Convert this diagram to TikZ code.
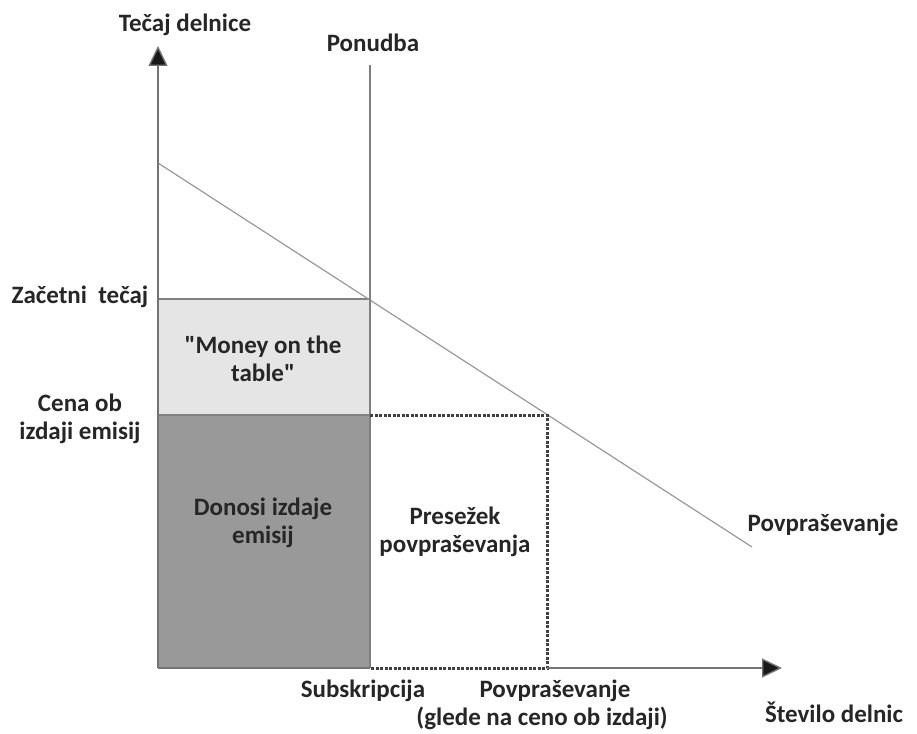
\documentclass[tikz,border=0pt]{standalone}
\usepackage{fontspec}
\setmainfont{Carlito}
\usetikzlibrary{arrows.meta}

\begin{document}
\begin{tikzpicture}[x=1pt, y=-1pt, every node/.style={font=\bfseries\fontsize{25}{28}\selectfont, text=black!85, inner sep=0pt},
  axis/.style={draw=black!55, line width=1.4pt, -{Triangle[length=20pt, width=19pt, fill=black!90]}},
  thin line/.style={draw=black!50, line width=1.2pt},
  dotted box/.style={draw=black!75, line width=3pt, dash pattern=on 3pt off 1.5pt}]
  \useasboundingbox (0,0) rectangle (917,733);
  \coordinate (O) at (158,668);
  \coordinate (ytip) at (158,46);
  \coordinate (xtip) at (782,668);
  \coordinate (stop) at (370,65);
  \coordinate (sbot) at (370,668);
  \coordinate (dstart) at (158,163);
  \coordinate (dend) at (752,547);
  \coordinate (p0) at (158,299);
  \coordinate (p1) at (158,415);
  \coordinate (a) at (370,299);
  \coordinate (b) at (370,415);
  \coordinate (q) at (547,415);
  \coordinate (qb) at (547,668);
  \fill[black!10] (p0) rectangle (b);
  \fill[black!40] (p1) rectangle (sbot);
  \draw[thin line] (p0) -- (a);
  \draw[thin line] (p1) -- (b);
  \draw[thin line, draw=black!40] (dstart) -- (dend);
  \draw[thin line] (stop) -- (sbot);
  \draw[dotted box] (b) -- (q) -- (qb) -- (sbot);
  \draw[axis] (O) -- (ytip);
  \draw[thin line, draw=black!55, line width=1.4pt] (O) -- (sbot);
  \draw[axis] (qb) -- (xtip);
  \node (ylab) at (185,25) {Tečaj delnice};
  \node (xlab) at (834,712) {Število delnic};
  \node (ponudba) at (373,43) {Ponudba};
  \node (zacetni) at (80,297) {Začetni~ tečaj};
  \node[align=center] (cena) at (80,419) {Cena ob\\izdaji emisij};
  \node[align=center] (money) at (263,359) {\textquotedbl Money on the\\table\textquotedbl};
  \node[align=center] (donosi) at (263,523) {Donosi izdaje\\emisij};
  \node[align=center] (presezek) at (455,532) {Presežek\\povpraševanja};
  \node (povpr) at (823,525) {Povpraševanje};
  \node (subskr) at (363,691) {Subskripcija};
  \node (povprq) at (555,691) {Povpraševanje};
  \node (glede) at (542,718) {(glede na ceno ob izdaji)};
\end{tikzpicture}
\end{document}
